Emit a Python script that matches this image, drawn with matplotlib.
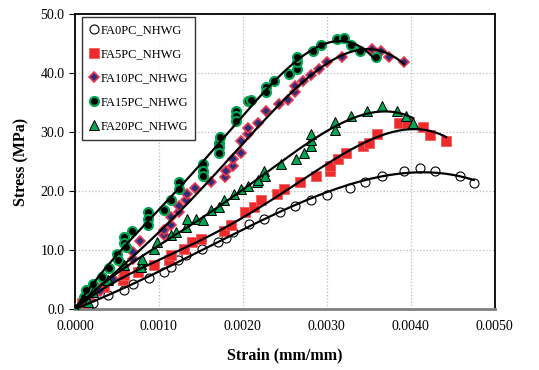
import numpy as np
import matplotlib
matplotlib.use('Agg')
import matplotlib.pyplot as plt

plt.rcParams['font.family'] = ['Liberation Serif', 'DejaVu Serif']

# 读取数据 (strain, stress)
fa0_x = [0, 0.00021, 0.00039, 0.00059, 0.00069, 0.00088, 0.00106, 0.00114, 0.00123, 0.00132,
         0.00151, 0.00170, 0.00180, 0.00188, 0.00207, 0.00225, 0.00244, 0.00262, 0.00281,
         0.00300, 0.00328, 0.00346, 0.00366, 0.00392, 0.00411, 0.00429, 0.00458, 0.00475]
fa0_y = [0, 1.0, 2.3, 3.2, 4.2, 5.3, 6.2, 7.1, 8.3, 9.1, 10.2, 11.4, 12.1, 13.0, 14.4, 15.3,
         16.5, 17.4, 18.5, 19.4, 20.5, 21.5, 22.5, 23.4, 23.9, 23.4, 22.5, 21.4]

fa5_x = [0, 0.00008, 0.00015, 0.00025, 0.00035, 0.00057, 0.00059, 0.00075, 0.00094, 0.00112,
         0.00114, 0.00130, 0.00140, 0.00150, 0.00178, 0.00186, 0.00202, 0.00213, 0.00222,
         0.00241, 0.00249, 0.00268, 0.00287, 0.00304, 0.00304, 0.00313, 0.00323, 0.00343,
         0.00350, 0.00360, 0.00386, 0.00396, 0.00414, 0.00423, 0.00442]
fa5_y = [0, 1.0, 2.1, 3.2, 3.8, 4.9, 5.7, 6.3, 7.4, 8.3, 9.1, 10.2, 11.4, 11.9, 13.3, 14.2,
         16.4, 17.3, 18.4, 19.5, 20.3, 21.5, 22.6, 23.4, 24.3, 25.4, 26.5, 27.7, 28.2, 29.6,
         31.6, 31.6, 30.8, 29.5, 28.5]

fa10_x = [0, 0.00015, 0.00030, 0.00045, 0.00059, 0.00069, 0.00069, 0.00077, 0.00106, 0.00106,
          0.00114, 0.00114, 0.00124, 0.00124, 0.00132, 0.00134, 0.00143, 0.00162, 0.00179,
          0.00180, 0.00188, 0.00188, 0.00198, 0.00198, 0.00206, 0.00206, 0.00218, 0.00227,
          0.00243, 0.00254, 0.00262, 0.00262, 0.00272, 0.00281, 0.00291, 0.00300, 0.00318,
          0.00354, 0.00364, 0.00374, 0.00392]
fa10_y = [0, 1.5, 3.0, 5.0, 7.2, 8.5, 9.6, 11.5, 12.5, 13.4, 14.3, 15.6, 16.5, 17.4, 18.5,
          19.5, 20.5, 21.6, 22.4, 23.4, 24.3, 25.4, 26.4, 28.5, 29.6, 30.6, 31.6, 33.6, 34.7,
          35.5, 36.8, 37.8, 38.7, 39.7, 40.7, 41.9, 42.7, 44.1, 43.8, 42.7, 41.8]

fa15_x = [0, 0.00011, 0.00013, 0.00021, 0.00032, 0.00041, 0.00050, 0.00051, 0.00059, 0.00059,
          0.00061, 0.00068, 0.00087, 0.00087, 0.00087, 0.00106, 0.00114, 0.00124, 0.00124,
          0.00152, 0.00153, 0.00153, 0.00172, 0.00172, 0.00172, 0.00173, 0.00192, 0.00192,
          0.00192, 0.00206, 0.00210, 0.00227, 0.00227, 0.00237, 0.00255, 0.00265, 0.00265,
          0.00265, 0.00283, 0.00293, 0.00312, 0.00320, 0.00329, 0.00340, 0.00358]
fa15_y = [0, 2.1, 3.2, 4.3, 5.4, 6.9, 9.4, 8.3, 12.2, 11.1, 10.5, 13.3, 16.4, 15.3, 14.2,
          16.8, 18.4, 21.5, 20.3, 24.6, 23.4, 22.6, 28.2, 27.4, 26.5, 29.1, 33.6, 32.7, 31.9,
          35.2, 35.5, 37.6, 36.8, 38.7, 39.9, 40.6, 41.8, 42.8, 43.8, 44.8, 45.8, 46.0, 44.8,
          43.7, 42.7]

fa20_x = [0, 0.00015, 0.00021, 0.00039, 0.00059, 0.00079, 0.00079, 0.00080, 0.00094, 0.00098,
          0.00114, 0.00120, 0.00132, 0.00134, 0.00144, 0.00152, 0.00162, 0.00172, 0.00178,
          0.00190, 0.00198, 0.00206, 0.00217, 0.00218, 0.00225, 0.00226, 0.00245, 0.00263,
          0.00273, 0.00281, 0.00281, 0.00281, 0.00310, 0.00310, 0.00329, 0.00348, 0.00366,
          0.00384, 0.00394, 0.00403]
fa20_y = [0, 1.2, 2.9, 4.9, 7.4, 7.7, 7.1, 8.5, 10.2, 11.4, 12.5, 13.0, 13.9, 15.3, 15.3,
          15.0, 16.7, 17.3, 18.4, 19.5, 20.3, 20.9, 21.5, 21.8, 23.4, 22.6, 24.5, 25.4, 26.4,
          27.7, 28.6, 29.6, 31.7, 30.4, 32.7, 33.6, 34.4, 33.6, 32.7, 31.5]

labels = ['FA0PC_NHWG', 'FA5PC_NHWG', 'FA10PC_NHWG', 'FA15PC_NHWG', 'FA20PC_NHWG']

series = [
    (fa0_x, fa0_y, dict(marker='o', mfc='white', mec='black', mew=0.8, ms=6.5)),
    (fa5_x, fa5_y, dict(marker='s', mfc='#EE2A2A', mec='#F26060', mew=0.6, ms=6.5)),
    (fa10_x, fa10_y, dict(marker='D', mfc='#2E2F7A', mec='#E8384F', mew=1.2, ms=4.8)),
    (fa15_x, fa15_y, dict(marker='o', mfc='black', mec='#00A651', mew=1.5, ms=6.5)),
    (fa20_x, fa20_y, dict(marker='^', mfc='#00A651', mec='black', mew=0.7, ms=7)),
]


def trend(x, y, deg=4):
    # 过原点的多项式趋势线
    x = np.asarray(x) * 1000
    y = np.asarray(y)
    A = np.vstack([x ** k for k in range(1, deg + 1)]).T
    c = np.linalg.lstsq(A, y, rcond=None)[0]
    xs = np.linspace(0, x.max(), 200)
    ys = sum(c[k - 1] * xs ** k for k in range(1, deg + 1))
    return xs / 1000, ys


fig = plt.figure(figsize=(5.39, 3.70), dpi=100)
ax = fig.add_axes([0.139, 0.165, 0.779, 0.797])

for (x, y, st), lab in zip(series, labels):
    ax.plot(x, y, linestyle='none', label=lab, zorder=3, **st)
for (x, y, st) in series:
    xs, ys = trend(x, y, 4)
    ax.plot(xs, ys, color='black', lw=1.6, zorder=4)

ax.set_xlim(0, 0.005)
ax.set_ylim(0, 50)
ax.set_xticks(np.arange(0, 0.0051, 0.001))
ax.set_yticks(np.arange(0, 51, 10))
ax.xaxis.set_major_formatter(matplotlib.ticker.FormatStrFormatter('%.4f'))
ax.yaxis.set_major_formatter(matplotlib.ticker.FormatStrFormatter('%.1f'))
ax.tick_params(axis='both', labelsize=10, length=4, direction='out', colors='black')
ax.tick_params(axis='x', length=0, pad=8)
ax.grid(True, linestyle=':', color='#BBBBBB', linewidth=0.9)
ax.set_axisbelow(True)
for s in ['left', 'right', 'top']:
    ax.spines[s].set_linewidth(1.3)
ax.spines['bottom'].set_color('#808080')
ax.spines['bottom'].set_linewidth(2)

ax.set_xlabel('Strain (mm/mm)', fontsize=11.5, fontweight='bold', labelpad=10)
ax.set_ylabel('Stress (MPa)', fontsize=11.5, fontweight='bold', labelpad=8)

leg = ax.legend(loc='upper left', fontsize=9, frameon=True, fancybox=False,
                edgecolor='black', handlelength=0.7, handletextpad=0.15,
                labelspacing=0.95, borderpad=0.6, borderaxespad=0,
                bbox_to_anchor=(0.017, 0.99))
leg.get_frame().set_linewidth(1.0)

plt.savefig('out.png', dpi=100)
